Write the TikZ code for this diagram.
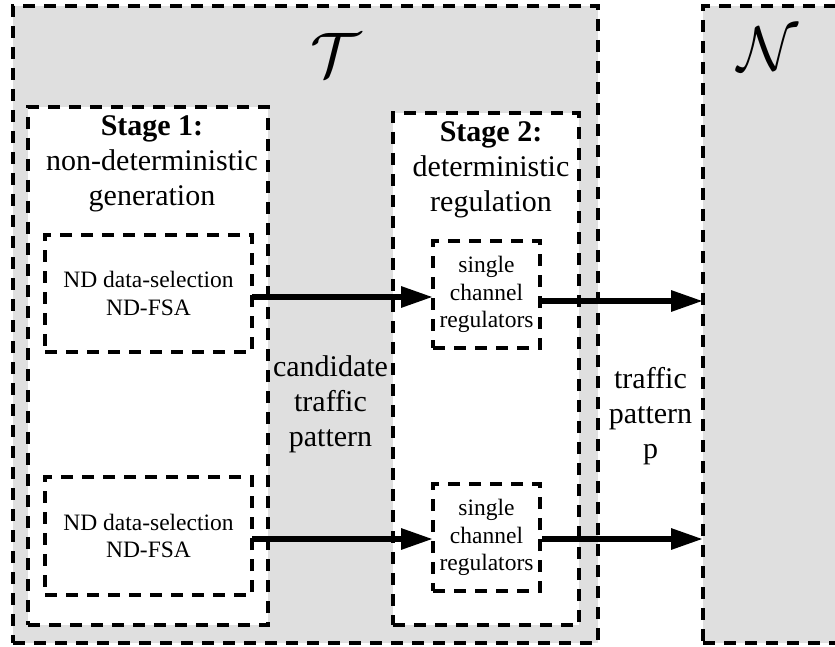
\documentclass[tikz,border=0pt]{standalone}
\usepackage{graphicx}
\usepackage{fontspec}
\setmainfont{Liberation Serif}
\usetikzlibrary{arrows.meta}
\definecolor{panelgray}{RGB}{223,223,223}
\begin{document}
\begin{tikzpicture}[x=1pt,y=-1pt,
  frame/.style={draw, dash pattern=on 12pt off 9pt, line width=3.2pt,
    inner sep=0pt, outer sep=0pt, rectangle},
  bigtext/.style={font=\fontsize{30}{35}\selectfont, align=center, inner sep=0pt},
  smalltext/.style={font=\fontsize{23.5}{27.5}\selectfont, align=center},
  flow/.style={line width=6pt, -{Triangle[length=32pt,width=20pt]}},
]
\useasboundingbox (0,0) rectangle (835,647);
\clip (0,0) rectangle (835,647);

% outer system blocks
\node[frame, fill=panelgray, minimum width=585pt, minimum height=637pt] (T) at (305.5,324.5) {};
\node[frame, fill=panelgray, minimum width=147pt, minimum height=637pt] (N) at (776.5,324.5) {};
\node (Tlabel) at (336,55) {\scalebox{6.3}{$\mathcal{T}$}};
\node (Nlabel) at (768,49) {\scalebox{6.3}{$\mathcal{N}$}};

% the two stages
\node[frame, fill=white, minimum width=240pt, minimum height=518pt] (S1) at (148,366) {};
\node[frame, fill=white, minimum width=186pt, minimum height=512pt] (S2) at (486,369) {};
\node[bigtext] (S1text) at (152,164) {\textbf{Stage 1:}\\non-deterministic\\generation};
\node[bigtext] (S2text) at (491,170) {\textbf{Stage 2:}\\deterministic\\regulation};

% inner blocks
\node[frame, smalltext, minimum width=207pt, minimum height=117pt] (nd1) at (148.5,293.5) {ND data-selection\\ND-FSA};
\node[frame, smalltext, minimum width=207pt, minimum height=118pt] (nd2) at (148.5,536) {ND data-selection\\ND-FSA};
\node[frame, smalltext, minimum width=107pt, minimum height=107pt] (reg1) at (486.5,294.5) {single\\channel\\regulators};
\node[frame, smalltext, minimum width=107pt, minimum height=107pt] (reg2) at (486.5,537.5) {single\\channel\\regulators};

% in-between labels
\node[bigtext] (cand) at (330.5,404) {candidate\\traffic\\pattern};
\node[bigtext] (tp) at (650.5,416) {traffic\\pattern\\p};

% data flow
\draw[flow] ([yshift=-3.5pt]nd1.east) -- ([yshift=-3.5pt]nd1.east -| reg1.west);
\draw[flow] ([yshift=-3pt]nd2.east) -- ([yshift=-3pt]nd2.east -| reg2.west);
\draw[flow] ([yshift=-6.5pt,xshift=2pt]reg1.east) -- ([yshift=-6.5pt]reg1.east -| N.west);
\draw[flow] ([yshift=-1.5pt,xshift=2pt]reg2.east) -- ([yshift=-1.5pt]reg2.east -| N.west);
\end{tikzpicture}
\end{document}
